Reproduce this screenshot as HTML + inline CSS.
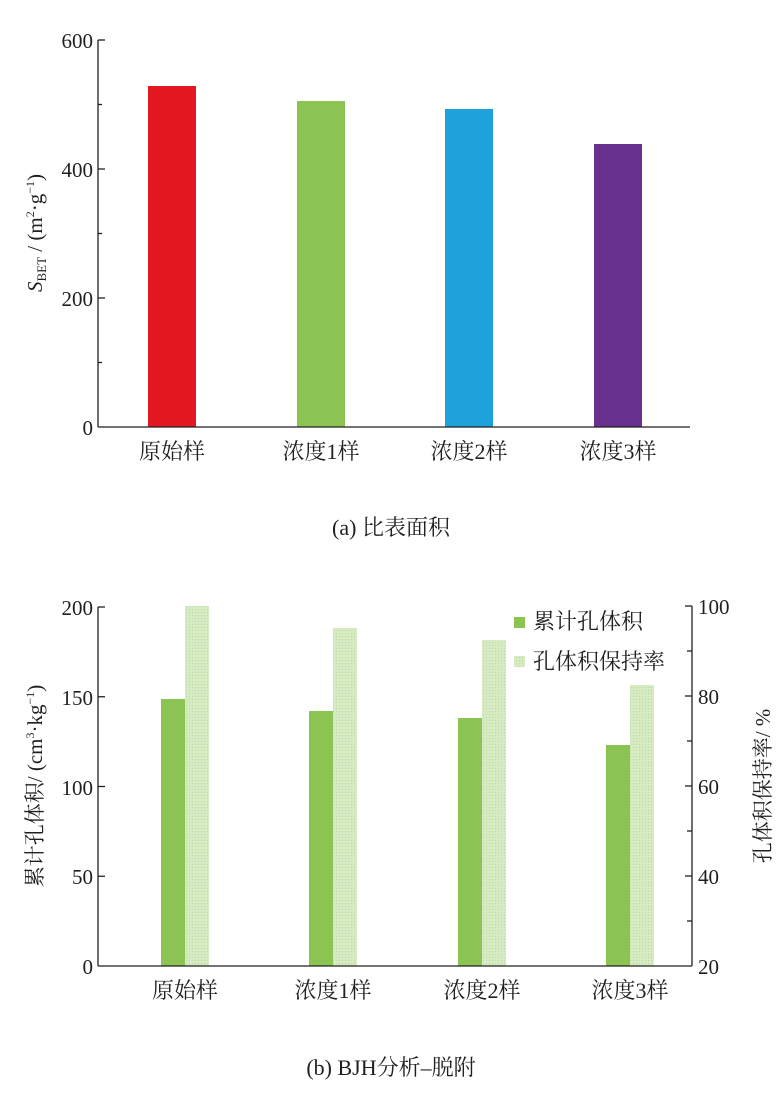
<!DOCTYPE html>
<html><head><meta charset="utf-8"><style>
html,body{margin:0;padding:0;background:#fff;}
svg{display:block;}
text{font-family:"Liberation Serif","Noto Serif CJK SC",serif;fill:#231f20;}
</style></head><body>
<svg width="782" height="1096" viewBox="0 0 782 1096" xmlns="http://www.w3.org/2000/svg">
<defs>
<pattern id="h" width="3" height="3" patternUnits="userSpaceOnUse">
<rect width="3" height="3" fill="#d6ebc4"/><rect width="1" height="1" fill="#b9dc9c"/>
</pattern>
</defs>
<!-- Top chart -->
<rect x="148" y="86" width="48" height="341" fill="#e3171f"/>
<rect x="297" y="101" width="48" height="326" fill="#8bc453"/>
<rect x="445" y="109" width="48" height="318" fill="#1ea2dc"/>
<rect x="594" y="144" width="48" height="283" fill="#68318d"/>
<g stroke="#231f20" stroke-width="1.3" fill="none">
<line x1="98" y1="40" x2="98" y2="427"/>
<line x1="98" y1="427" x2="690" y2="427"/>
<line x1="98" y1="40" x2="105" y2="40"/>
<line x1="98" y1="104.5" x2="102" y2="104.5"/>
<line x1="98" y1="169" x2="105" y2="169"/>
<line x1="98" y1="233.5" x2="102" y2="233.5"/>
<line x1="98" y1="298" x2="105" y2="298"/>
<line x1="98" y1="362.5" x2="102" y2="362.5"/>
</g>
<g font-size="21" text-anchor="end">
<text x="93" y="48">600</text><text x="93" y="177">400</text>
<text x="93" y="306">200</text><text x="93" y="435">0</text>
</g>
<text transform="translate(42,233) rotate(-90)" font-size="21" text-anchor="middle"><tspan font-style="italic">S</tspan><tspan font-size="13" dy="4">BET</tspan><tspan dy="-4"> / (m</tspan><tspan font-size="12" dy="-8">2</tspan><tspan dy="8">·g</tspan><tspan font-size="12" dy="-8">−1</tspan><tspan dy="8">)</tspan></text>
<g font-size="22" text-anchor="middle">
<text x="172" y="459">原始样</text><text x="321" y="459">浓度1样</text>
<text x="469" y="459">浓度2样</text><text x="618" y="459">浓度3样</text>
</g>
<text x="391" y="535" font-size="22" text-anchor="middle">(a)  比表面积</text>

<!-- Bottom chart -->
<rect x="161" y="699" width="24" height="267" fill="#8bc453"/>
<rect x="185" y="606" width="24" height="360" fill="url(#h)"/>
<rect x="309" y="711" width="24" height="255" fill="#8bc453"/>
<rect x="333" y="628" width="24" height="338" fill="url(#h)"/>
<rect x="458" y="718" width="24" height="248" fill="#8bc453"/>
<rect x="482" y="640" width="24" height="326" fill="url(#h)"/>
<rect x="606" y="745" width="24" height="221" fill="#8bc453"/>
<rect x="630" y="685" width="24" height="281" fill="url(#h)"/>
<g stroke="#231f20" stroke-width="1.3" fill="none">
<line x1="98" y1="607" x2="98" y2="966"/>
<line x1="98" y1="966" x2="692" y2="966"/>
<line x1="692" y1="606" x2="692" y2="966"/>
<line x1="98" y1="607" x2="105" y2="607"/>
<line x1="98" y1="696.75" x2="105" y2="696.75"/>
<line x1="98" y1="786.5" x2="105" y2="786.5"/>
<line x1="98" y1="876.25" x2="105" y2="876.25"/>
<line x1="692" y1="606" x2="685" y2="606"/>
<line x1="692" y1="651" x2="687" y2="651"/>
<line x1="692" y1="696" x2="685" y2="696"/>
<line x1="692" y1="741" x2="687" y2="741"/>
<line x1="692" y1="786" x2="685" y2="786"/>
<line x1="692" y1="831" x2="687" y2="831"/>
<line x1="692" y1="876" x2="685" y2="876"/>
<line x1="692" y1="921" x2="687" y2="921"/>
</g>
<g font-size="21" text-anchor="end">
<text x="93" y="615">200</text><text x="93" y="705">150</text>
<text x="93" y="795">100</text><text x="93" y="884">50</text>
<text x="93" y="974">0</text>
</g>
<g font-size="21">
<text x="698" y="614">100</text><text x="698" y="704">80</text>
<text x="698" y="794">60</text><text x="698" y="884">40</text>
<text x="698" y="974">20</text>
</g>
<text transform="translate(42,786) rotate(-90)" font-size="21" text-anchor="middle">累计孔体积/ (cm<tspan font-size="12" dy="-8">3</tspan><tspan dy="8">·kg</tspan><tspan font-size="12" dy="-8">−1</tspan><tspan dy="8">)</tspan></text>
<text transform="translate(770,786) rotate(-90)" font-size="21" text-anchor="middle">孔体积保持率/ %</text>
<rect x="514" y="617" width="11" height="11" fill="#8bc453"/>
<text x="533" y="629" font-size="22">累计孔体积</text>
<rect x="514" y="656" width="11" height="11" fill="url(#h)"/>
<text x="533" y="669" font-size="22">孔体积保持率</text>
<g font-size="22" text-anchor="middle">
<text x="185" y="998">原始样</text><text x="333" y="998">浓度1样</text>
<text x="482" y="998">浓度2样</text><text x="630" y="998">浓度3样</text>
</g>
<text x="391" y="1075" font-size="22" text-anchor="middle">(b)  BJH分析–脱附</text>
</svg>
</body></html>
